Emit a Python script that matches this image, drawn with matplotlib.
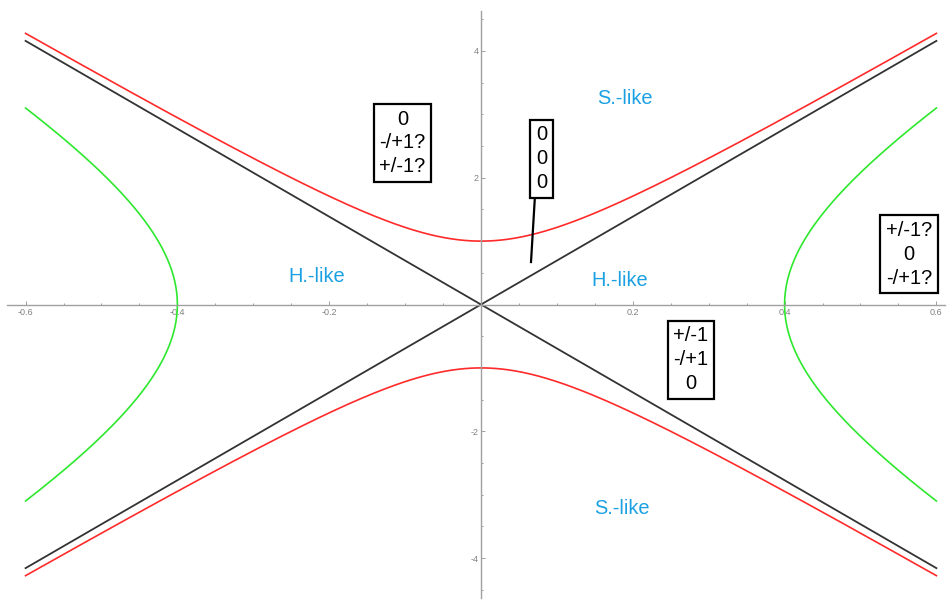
import numpy as np
import matplotlib.pyplot as plt
from matplotlib.ticker import FixedLocator, MultipleLocator

plt.rcParams['font.family'] = ['Liberation Sans', 'DejaVu Sans']

# curve parameters
slope = 6.93          # asymptote slope of all three families
red_vertex = 1.0      # y-intercept of the red hyperbola
green_vertex = 0.4    # x-intercept of the green hyperbola
x_max = 0.6

# axis ticks
x_major = [-0.6, -0.4, -0.2, 0.2, 0.4, 0.6]
y_major = [-4, -2, 2, 4]

# region names and boxed sign triples
region_text = ["S.-like", "S.-like", "H.-like", "H.-like"]
region_xy = [(0.190, 3.25), (0.186, -3.21), (-0.217, 0.434), (0.183, 0.386)]
box_text = ["0\n-/+1?\n+/-1?", "0\n0\n0", "+/-1?\n0\n-/+1?", "+/-1\n-/+1\n0"]
box_xy = [(-0.1034, 2.55), (0.0797, 2.30), (0.564, 0.79), (0.2767, -0.87)]

fig = plt.figure(figsize=(9.48, 6.07), dpi=100)
ax = fig.add_axes([0, 0, 1, 1])

x = np.linspace(-x_max, x_max, 600)
ax.plot(x, slope * x, color='#333333', lw=1.3)
ax.plot(x, -slope * x, color='#333333', lw=1.3)
ax.plot(x, np.sqrt(red_vertex**2 + (slope * x)**2), color='#ff2a2a', lw=1.2)
ax.plot(x, -np.sqrt(red_vertex**2 + (slope * x)**2), color='#ff2a2a', lw=1.2)

y_end = slope * np.sqrt(x_max**2 - green_vertex**2)
y = np.linspace(-y_end, y_end, 600)
gx = np.sqrt(green_vertex**2 + (y / slope)**2)
ax.plot(gx, y, color='#2ee82e', lw=1.2)
ax.plot(-gx, y, color='#2ee82e', lw=1.2)

for (tx, ty), s in zip(region_xy, region_text):
    ax.text(tx, ty, s, color='#1ba1e2', fontsize=14.4, ha='center', va='center')

for (tx, ty), s in zip(box_xy, box_text):
    ax.text(tx, ty, s, color='black', fontsize=14.5, ha='center', va='center',
            multialignment='center', linespacing=1.32,
            bbox=dict(boxstyle='square,pad=0.28', fc='white', ec='black', lw=1.6))

# pointer from the middle box down to the black line
ax.plot([0.0711, 0.0659], [1.71, 0.67], color='black', lw=1.6)

ax.set_xlim(-0.6337, 0.6153)
ax.set_ylim(-4.771, 4.803)

for side in ['top', 'right']:
    ax.spines[side].set_visible(False)
ax.spines['bottom'].set_position(('data', 0))
ax.spines['left'].set_position(('data', 0))
ax.spines['bottom'].set_bounds(-0.6245, 0.611)
ax.spines['left'].set_bounds(-4.63, 4.63)
for side in ['bottom', 'left']:
    ax.spines[side].set_color('#a0a0a0')
    ax.spines[side].set_linewidth(1.0)

ax.xaxis.set_major_locator(FixedLocator(x_major))
ax.xaxis.set_minor_locator(MultipleLocator(0.05))
ax.yaxis.set_major_locator(FixedLocator(y_major))
ax.yaxis.set_minor_locator(MultipleLocator(0.5))
ax.set_xticklabels([f"{v:g}" for v in x_major])
ax.set_yticklabels([f"{v:g}" for v in y_major])
ax.tick_params(which='both', direction='in', color='#a0a0a0', width=0.7,
               labelcolor='#808080', labelsize=6.5)
ax.tick_params(which='major', length=2.8)
ax.tick_params(which='minor', length=1.6)
ax.tick_params(axis='x', pad=2.5)
ax.tick_params(axis='y', pad=1.5)
ax.patch.set_visible(False)

fig.savefig('out.png', dpi=100)
